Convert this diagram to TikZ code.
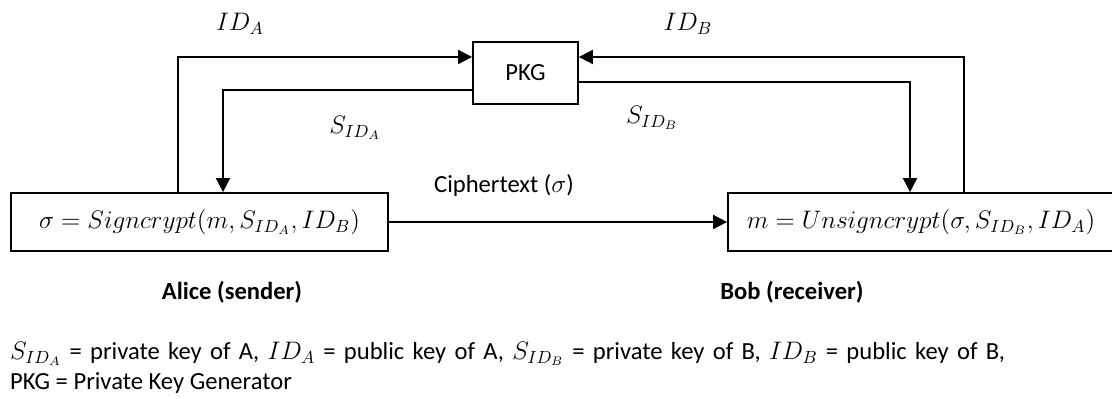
\documentclass[tikz,border=0pt]{standalone}
\usepackage{fontspec}
\setmainfont{Carlito}
\usetikzlibrary{arrows.meta,calc}

\begin{document}
\begin{tikzpicture}[
    box/.style={draw, line width=1pt, minimum height=1.16cm, inner sep=0pt, font=\fontsize{14}{17}\selectfont},
    arr/.style={-{Triangle[length=8pt,width=8pt]}, line width=1pt},
    lbl/.style={font=\fontsize{14}{17}\selectfont, inner sep=1pt},
    who/.style={font=\fontsize{14}{17}\selectfont\bfseries, inner sep=1pt}
]
\useasboundingbox (0,0) rectangle (22.24,7.96);
\node[box, minimum width=7.54cm] (A) at (3.99,3.52) {$\sigma = Signcrypt(m, S_{ID_A}, ID_B)$};
\node[box, minimum width=7.72cm] (B) at (18.42,3.52) {$m = Unsigncrypt(\sigma, S_{ID_B}, ID_A)$};
\node[box, minimum width=2.1cm, minimum height=1.24cm] (P) at (10.51,6.5) {PKG};

\node[lbl] (la) at (4.8,7.48) {$ID_A$};
\node[lbl] (lb) at (13.76,7.48) {$ID_B$};
\node[lbl] (sa) at (7.1,5.4) {$S_{ID_A}$};
\node[lbl] (sb) at (13.04,5.6) {$S_{ID_B}$};
\node[lbl] (ct) at (10.08,4.26) {Ciphertext ($\sigma$)};
\node[who] (alice) at (4.64,2.12) {Alice (sender)};
\node[who] (bob) at (15.84,2.12) {Bob (receiver)};

% key requests and key delivery
\draw[arr] ([xshift=-0.43cm]A.north) |- ([yshift=0.32cm]P.west);
\draw[arr] ([yshift=-0.34cm]P.west) -| ([xshift=0.47cm]A.north);
\draw[arr] ([xshift=0.86cm]B.north) |- ([yshift=0.32cm]P.east);
\draw[arr] ([yshift=-0.18cm]P.east) -| ([xshift=-0.22cm]B.north);
% ciphertext
\draw[arr] (A) -- (B);

\node[lbl, anchor=north west, align=left] (key) at (0.16,1.16)
  {\makebox[19.9cm][s]{$S_{ID_A}$ = private key of A, $ID_A$ = public key of A, $S_{ID_B}$ = private key of B, $ID_B$ = public key of B,}\\
   PKG = Private Key Generator};
\end{tikzpicture}
\end{document}
